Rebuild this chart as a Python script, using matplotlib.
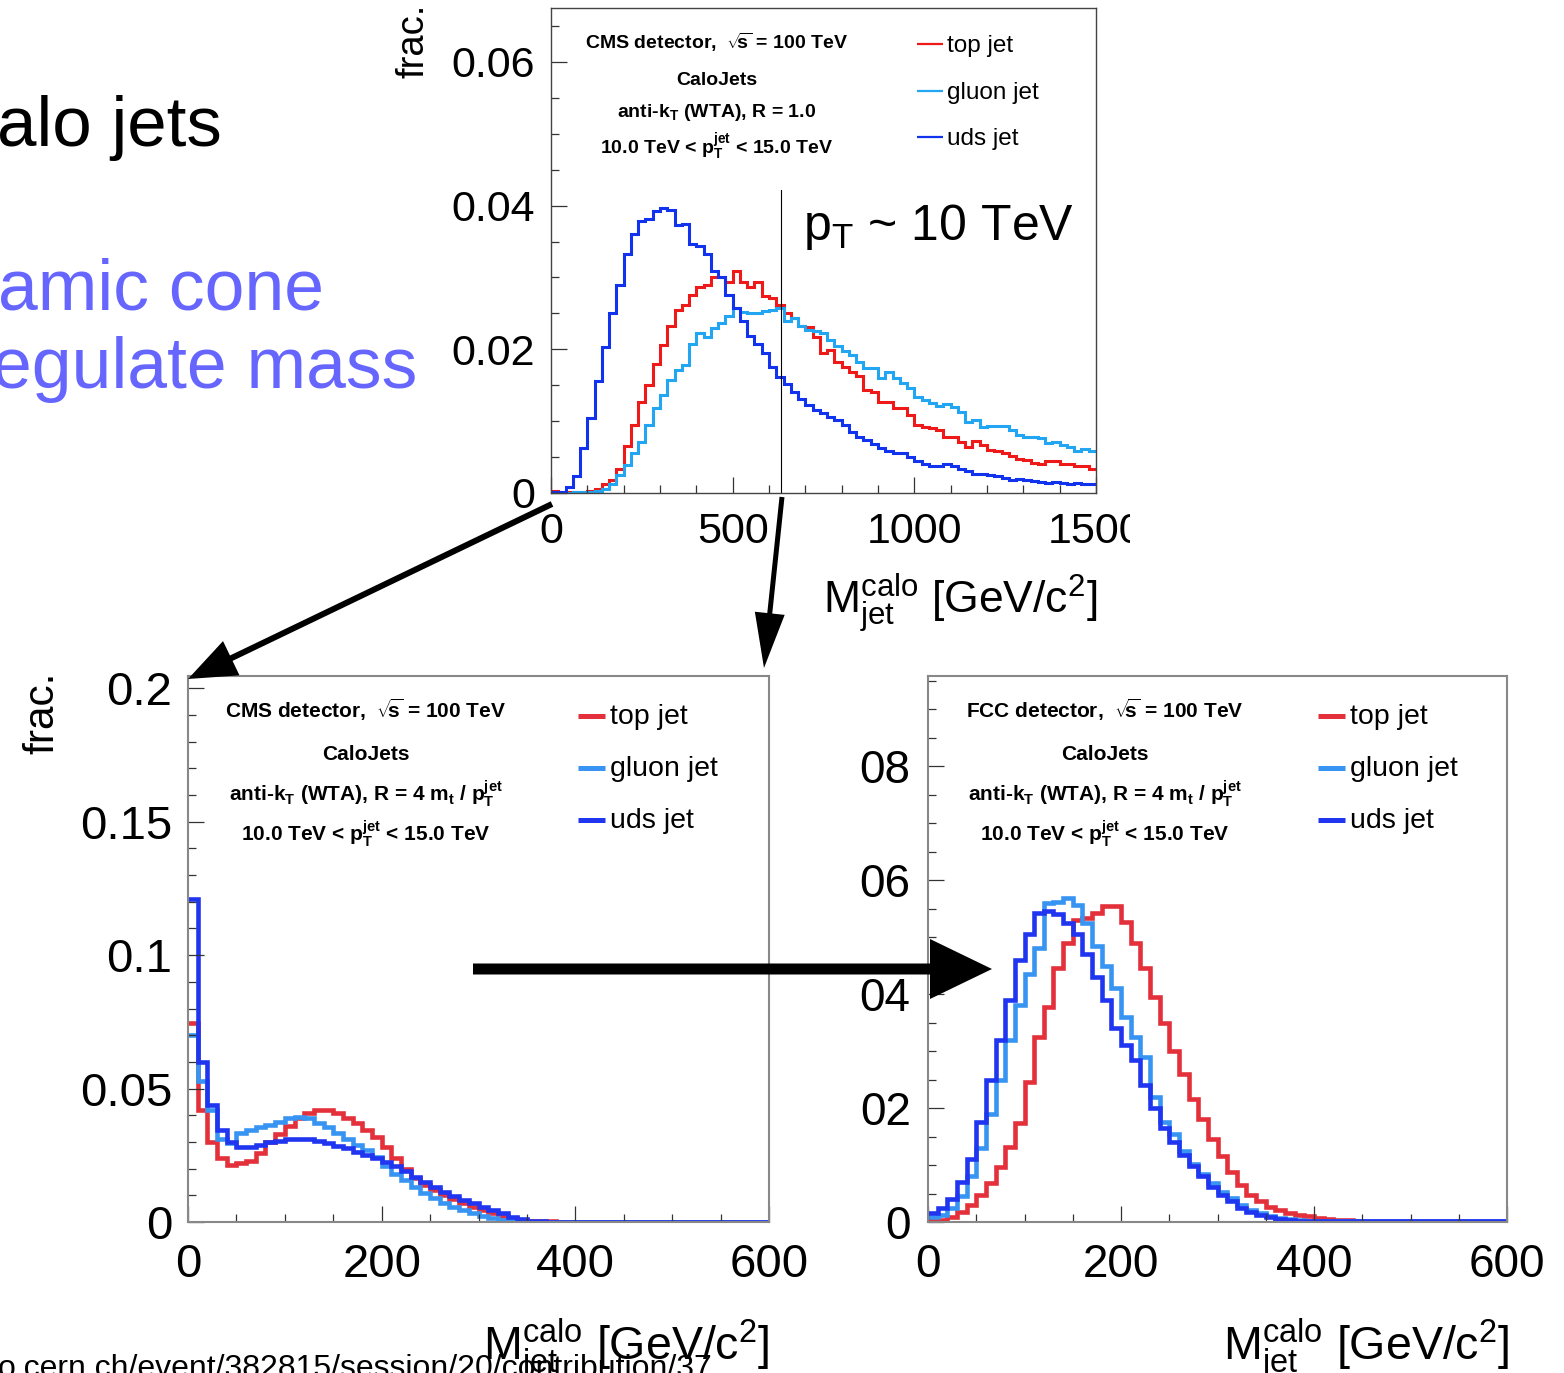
"""
Calo-jet mass slide: top plot (R = 1.0) and two bottom plots (dynamic cone R = 4 m_t / pT).
"""
import numpy as np
import matplotlib
matplotlib.use("Agg")
import matplotlib.pyplot as plt
from matplotlib.patches import FancyArrow
from matplotlib.ticker import MultipleLocator, FixedLocator, FixedFormatter
from matplotlib.transforms import Bbox, TransformedBbox

W, H = 1564, 1373

plt.rcParams["font.family"] = ["Liberation Sans", "DejaVu Sans"]
plt.rcParams["mathtext.fontset"] = "custom"
plt.rcParams["mathtext.rm"] = "Liberation Sans"
plt.rcParams["mathtext.it"] = "Liberation Sans:italic"
plt.rcParams["mathtext.bf"] = "Liberation Sans:bold"
plt.rcParams["mathtext.sf"] = "Liberation Sans"

# ---- top plot : 0-1500 GeV, 20 GeV bins ----
top_range = (0, 1500)
red_top = [
    0.0003, 0.0001, 0.0001, 0.0001, 0.0002, 0.0003, 0.0006, 0.0012, 0.0018, 0.0034,
    0.0065, 0.0094, 0.0127, 0.0150, 0.0180, 0.0206, 0.0232, 0.0254, 0.0261, 0.0275,
    0.0287, 0.0290, 0.0300, 0.0300, 0.0294, 0.0309, 0.0294, 0.0287, 0.0294, 0.0274,
    0.0272, 0.0261, 0.0250, 0.0243, 0.0233, 0.0231, 0.0217, 0.0195, 0.0199, 0.0183,
    0.0176, 0.0169, 0.0163, 0.0144, 0.0141, 0.0127, 0.0127, 0.0118, 0.0118, 0.0109,
    0.0095, 0.0092, 0.0090, 0.0088, 0.0078, 0.0078, 0.0071, 0.0064, 0.0073, 0.0067,
    0.0060, 0.0058, 0.0055, 0.0051, 0.0048, 0.0046, 0.0042, 0.0041, 0.0044, 0.0044,
    0.0041, 0.0041, 0.0037, 0.0037, 0.0034]
glu_top = [
    0.0000, 0.0000, 0.0000, 0.0001, 0.0001, 0.0002, 0.0003, 0.0006, 0.0013, 0.0025,
    0.0039, 0.0055, 0.0071, 0.0094, 0.0118, 0.0136, 0.0157, 0.0171, 0.0178, 0.0208,
    0.0223, 0.0217, 0.0229, 0.0237, 0.0246, 0.0257, 0.0252, 0.0251, 0.0250, 0.0253,
    0.0254, 0.0258, 0.0240, 0.0244, 0.0232, 0.0227, 0.0226, 0.0222, 0.0213, 0.0204,
    0.0197, 0.0192, 0.0183, 0.0174, 0.0174, 0.0160, 0.0169, 0.0160, 0.0153, 0.0146,
    0.0134, 0.0129, 0.0125, 0.0121, 0.0124, 0.0120, 0.0113, 0.0099, 0.0102, 0.0092,
    0.0093, 0.0093, 0.0093, 0.0088, 0.0081, 0.0078, 0.0078, 0.0076, 0.0069, 0.0071,
    0.0067, 0.0064, 0.0058, 0.0061, 0.0058]
uds_top = [
    0.0001, 0.0002, 0.0009, 0.0023, 0.0062, 0.0104, 0.0156, 0.0203, 0.0250, 0.0290,
    0.0332, 0.0361, 0.0378, 0.0382, 0.0392, 0.0397, 0.0394, 0.0373, 0.0375, 0.0347,
    0.0344, 0.0333, 0.0309, 0.0300, 0.0275, 0.0258, 0.0240, 0.0219, 0.0207, 0.0195,
    0.0175, 0.0161, 0.0152, 0.0141, 0.0131, 0.0122, 0.0115, 0.0112, 0.0106, 0.0101,
    0.0095, 0.0085, 0.0078, 0.0074, 0.0068, 0.0062, 0.0058, 0.0056, 0.0055, 0.0050,
    0.0045, 0.0041, 0.0038, 0.0038, 0.0040, 0.0038, 0.0034, 0.0030, 0.0027, 0.0027,
    0.0025, 0.0023, 0.0021, 0.0018, 0.0020, 0.0018, 0.0017, 0.0016, 0.0014, 0.0016,
    0.0014, 0.0013, 0.0014, 0.0013, 0.0013]

# ---- bottom plots : 0-600 GeV, 10 GeV bins ----
bot_range = (0, 600)
red_cms = [
    0.0745, 0.042, 0.030, 0.024, 0.0215, 0.022, 0.023, 0.026, 0.030, 0.033,
    0.036, 0.039, 0.041, 0.042, 0.042, 0.041, 0.039, 0.037, 0.0345, 0.032,
    0.028, 0.024, 0.020, 0.0165, 0.014, 0.012, 0.010, 0.0085, 0.007, 0.0056,
    0.0044, 0.0032, 0.0022, 0.0014, 0.0008, 0.0005, 0.0003, 0.0002, 0.0001, 0.0001,
    0.0001, 0.0001, 0.0001, 0.0001, 0.0001, 0.0001, 0.0001, 0.0001, 0.0001, 0.0001,
    0.0001, 0.0001, 0.0001, 0.0001, 0.0001, 0.0001, 0.0001, 0.0001, 0.0001, 0.0001]
glu_cms = [
    0.070, 0.053, 0.042, 0.031, 0.0295, 0.0335, 0.0345, 0.0355, 0.0365, 0.0375,
    0.0388, 0.0395, 0.039, 0.037, 0.0355, 0.0335, 0.031, 0.029, 0.027, 0.0245,
    0.021, 0.018, 0.0158, 0.0133, 0.011, 0.009, 0.0072, 0.0058, 0.0045, 0.0033,
    0.0023, 0.0014, 0.0008, 0.0004, 0.0002, 0.0001, 0.0001, 0.0001, 0.0001, 0.0001,
    0.0001, 0.0001, 0.0001, 0.0001, 0.0001, 0.0001, 0.0001, 0.0001, 0.0001, 0.0001,
    0.0001, 0.0001, 0.0001, 0.0001, 0.0001, 0.0001, 0.0001, 0.0001, 0.0001, 0.0001]
uds_cms = [
    0.121, 0.060, 0.044, 0.0345, 0.030, 0.028, 0.028, 0.029, 0.0298, 0.0305,
    0.031, 0.0312, 0.031, 0.0302, 0.0295, 0.0285, 0.0276, 0.0264, 0.025, 0.024,
    0.0226, 0.0208, 0.019, 0.017, 0.015, 0.0133, 0.0114, 0.0097, 0.0083, 0.0070,
    0.0058, 0.0045, 0.0033, 0.0020, 0.0011, 0.0005, 0.0002, 0.0001, 0.0001, 0.0001,
    0.0001, 0.0001, 0.0001, 0.0001, 0.0001, 0.0001, 0.0001, 0.0001, 0.0001, 0.0001,
    0.0001, 0.0001, 0.0001, 0.0001, 0.0001, 0.0001, 0.0001, 0.0001, 0.0001, 0.0001]

red_fcc = [
    0.0004, 0.0004, 0.0009, 0.0018, 0.003, 0.0047, 0.0068, 0.0097, 0.0132, 0.0173,
    0.0245, 0.0325, 0.0378, 0.0445, 0.049, 0.053, 0.0533, 0.0542, 0.0555, 0.0555,
    0.0527, 0.049, 0.0445, 0.0395, 0.035, 0.030, 0.026, 0.0215, 0.018, 0.0145,
    0.0115, 0.0088, 0.0065, 0.0048, 0.0036, 0.0027, 0.0021, 0.0016, 0.0013, 0.001,
    0.0007, 0.0005, 0.0004, 0.0003, 0.0002, 0.0001, 0.0001, 0.0001, 0.0001, 0.0001,
    0.0001, 0.0001, 0.0001, 0.0001, 0.0001, 0.0001, 0.0001, 0.0001, 0.0001, 0.0001]
glu_fcc = [
    0.0008, 0.0012, 0.0025, 0.0045, 0.008, 0.013, 0.019, 0.025, 0.032, 0.038,
    0.0435, 0.048, 0.056, 0.0562, 0.0568, 0.0556, 0.0524, 0.0485, 0.045, 0.041,
    0.036, 0.0325, 0.029, 0.022, 0.0175, 0.0155, 0.0125, 0.0102, 0.0085, 0.0068,
    0.0053, 0.0042, 0.003, 0.0021, 0.0015, 0.001, 0.0007, 0.0005, 0.0003, 0.0002,
    0.0001, 0.0001, 0.0001, 0.0001, 0.0001, 0.0001, 0.0001, 0.0001, 0.0001, 0.0001,
    0.0001, 0.0001, 0.0001, 0.0001, 0.0001, 0.0001, 0.0001, 0.0001, 0.0001, 0.0001]
uds_fcc = [
    0.0015, 0.0025, 0.004, 0.007, 0.011, 0.0175, 0.025, 0.032, 0.039, 0.046,
    0.0505, 0.0543, 0.0545, 0.054, 0.0525, 0.0505, 0.047, 0.043, 0.039, 0.034,
    0.031, 0.0285, 0.024, 0.020, 0.0165, 0.014, 0.0118, 0.0098, 0.008, 0.0062,
    0.0048, 0.0036, 0.0025, 0.0018, 0.0012, 0.0008, 0.0005, 0.0003, 0.0002, 0.0001,
    0.0001, 0.0001, 0.0001, 0.0001, 0.0001, 0.0001, 0.0001, 0.0001, 0.0001, 0.0001,
    0.0001, 0.0001, 0.0001, 0.0001, 0.0001, 0.0001, 0.0001, 0.0001, 0.0001, 0.0001]

legend_names = ["top jet", "gluon jet", "uds jet"]

top_xticks = [0, 500, 1000, 1500]
top_yticks = [0, 0.02, 0.04, 0.06]
top_ylabels = ["0", "0.02", "0.04", "0.06"]
bot_xticks = [0, 200, 400, 600]
cms_yticks = [0, 0.05, 0.1, 0.15, 0.2]
cms_ylabels = ["0", "0.05", "0.1", "0.15", "0.2"]
fcc_yticks = [0, 0.02, 0.04, 0.06, 0.08]
fcc_ylabels = ["0", "02", "04", "06", "08"]

TOP_COLS = ["#ee1a1a", "#22a6f2", "#1133ee"]
BOT_COLS = ["#e3303a", "#3794f2", "#2035f0"]
SLIDE_BLUE = "#6666ff"

fig = plt.figure(figsize=(W / 100, H / 100), dpi=100)
fig.patch.set_facecolor("white")


def px_axes(l, t, r, b):
    return fig.add_axes([l / W, 1 - b / H, (r - l) / W, (b - t) / H])


def ftext(x, y, s, **kw):
    return fig.text(x / W, 1 - y / H, s, **kw)


def style_axes(ax, xlim, ylim, xticks, xminor, yticks, ylabels, yminor,
               frame_col, frame_lw, fs, xpad, ypad):
    ax.set_xlim(*xlim)
    ax.set_ylim(*ylim)
    ax.xaxis.set_major_locator(FixedLocator(xticks))
    ax.xaxis.set_major_formatter(FixedFormatter([str(t) for t in xticks]))
    ax.xaxis.set_minor_locator(MultipleLocator(xminor))
    ax.yaxis.set_major_locator(FixedLocator(yticks))
    ax.yaxis.set_major_formatter(FixedFormatter(ylabels))
    ax.yaxis.set_minor_locator(MultipleLocator(yminor))
    ax.tick_params(which="both", direction="in", top=False, right=False,
                   color="#333333", width=0.9)
    ax.tick_params(which="major", length=11.5)
    ax.tick_params(which="minor", length=5.5)
    ax.tick_params(axis="x", which="major", labelsize=fs, pad=xpad)
    ax.tick_params(axis="y", which="major", labelsize=fs, pad=ypad)
    for sp in ax.spines.values():
        sp.set_color(frame_col)
        sp.set_linewidth(frame_lw)


def draw_hists(ax, series, rng, cols, lw):
    for vals, c in zip(series, cols):
        edges = np.linspace(rng[0], rng[1], len(vals) + 1)
        ax.stairs(vals, edges, color=c, lw=lw, baseline=None)


# ---------------- top plot ----------------
ax_top = px_axes(551, 8, 1096, 493)
style_axes(ax_top, top_range, (0, 0.0675), top_xticks, 100, top_yticks, top_ylabels,
           0.005, "#444444", 1.0, 31, 13.5, 11.5)
draw_hists(ax_top, [red_top, glu_top, uds_top], top_range, TOP_COLS, 2.2)
ax_top.axvline(633, ymax=0.625, color="black", lw=0.8)

# the 1500 label is cut by the slide image border
clip = TransformedBbox(Bbox([[0, 0], [1130 / W, 1]]), fig.transFigure)
last = ax_top.xaxis.get_major_ticks()[-1]
last.label1.set_clip_box(clip)
last.label1.set_clip_on(True)

# ---------------- bottom plots ----------------
ax_cms = px_axes(188, 676, 769, 1222)
style_axes(ax_cms, bot_range, (0, 0.2046), bot_xticks, 50, cms_yticks, cms_ylabels,
           0.01, "#888888", 1.5, 34, 15, 11.5)
draw_hists(ax_cms, [red_cms, glu_cms, uds_cms], bot_range, BOT_COLS, 3.3)

ax_fcc = px_axes(928, 676, 1507, 1222)
style_axes(ax_fcc, bot_range, (0, 0.0958), bot_xticks, 50, fcc_yticks, fcc_ylabels,
           0.005, "#888888", 1.5, 33, 15, 12.5)
draw_hists(ax_fcc, [red_fcc, glu_fcc, uds_fcc], bot_range, BOT_COLS, 3.3)

# ---------------- texts in the plots ----------------
bf_sqrt = r"$\mathbf{\sqrt{\!\!s}}$"
pt_jet = r"$\mathbf{p_{T}^{jet}}$"

ftext(717, 49, "CMS detector,  " + bf_sqrt + " = 100 TeV", fontsize=14, fontweight="bold", ha="center")
ftext(717, 85, "CaloJets", fontsize=14, fontweight="bold", ha="center")
ftext(717, 117, r"anti-k$\mathbf{_{T}}$ (WTA), R = 1.0", fontsize=14, fontweight="bold", ha="center")
ftext(717, 154, "10.0 TeV < " + pt_jet + " < 15.0 TeV", fontsize=14, fontweight="bold", ha="center")

for (cx, name) in [(366, "CMS"), (1105, "FCC")]:
    ftext(cx, 718, name + " detector,  " + bf_sqrt + " = 100 TeV", fontsize=15, fontweight="bold", ha="center")
    ftext(cx, 760, "CaloJets", fontsize=15, fontweight="bold", ha="center")
    ftext(cx, 801, r"anti-k$\mathbf{_{T}}$ (WTA), R = 4 m$\mathbf{_{t}}$ / " + pt_jet,
          fontsize=15, fontweight="bold", ha="center")
    ftext(cx, 841, "10.0 TeV < " + pt_jet + " < 15.0 TeV", fontsize=15, fontweight="bold", ha="center")

ftext(803, 240, r"p$_{\mathrm{T}}$ ~ 10 TeV", fontsize=36, va="baseline")

xlab = r"M$_{\mathrm{jet}}^{\mathrm{calo}}$ [GeV/c$^{2}$]"
ftext(1097, 614, xlab, fontsize=32, ha="right", va="baseline")
ftext(770, 1360, xlab, fontsize=33.5, ha="right", va="baseline")
ftext(1510, 1360, xlab, fontsize=33.5, ha="right", va="baseline")

ftext(431, 4, "frac.", fontsize=27.5, rotation=90, ha="right", va="top")
ftext(62, 672, "frac.", fontsize=30.5, rotation=90, ha="right", va="top")

# ---------------- slide texts ----------------
ftext(-3, 146, "alo jets", fontsize=51, va="baseline")
ftext(-2, 310, "amic cone", fontsize=51.5, va="baseline", color=SLIDE_BLUE)
ftext(-8, 388, "egulate mass", fontsize=51.5, va="baseline", color=SLIDE_BLUE)
ftext(-2, 1377, "o.cern.ch/event/382815/session/20/contribution/37", fontsize=23, va="baseline")

# ---------------- overlay: legends and arrows (pixel coordinates) ----------------
ov = fig.add_axes([0, 0, 1, 1], zorder=20)
ov.set_xlim(0, W)
ov.set_ylim(H, 0)
ov.axis("off")
ov.patch.set_alpha(0)

for i, name in enumerate(legend_names):
    y = [44, 91, 137][i]
    ov.plot([917, 943], [y, y], color=TOP_COLS[i], lw=1.6, solid_capstyle="butt")
    ftext(947, y + 8, name, fontsize=17.5, va="baseline")
    yb = [716, 768, 820][i]
    for x0 in (578, 1318):
        ov.plot([x0, x0 + 27], [yb, yb], color=BOT_COLS[i], lw=3.6, solid_capstyle="butt")
        ftext(x0 + 32, yb + 8, name, fontsize=20.5, va="baseline")

arrows = [((552, 504), (188, 679), 6, 38, 48),
          ((782, 497), (764, 668), 5, 30, 55),
          ((473, 969), (992, 969), 11, 60, 62)]
for (x0, y0), (x1, y1), w, hw, hl in arrows:
    ov.add_patch(FancyArrow(x0, y0, x1 - x0, y1 - y0, width=w, head_width=hw,
                            head_length=hl, length_includes_head=True,
                            color="black", lw=0))

fig.savefig("out.png", dpi=100)
